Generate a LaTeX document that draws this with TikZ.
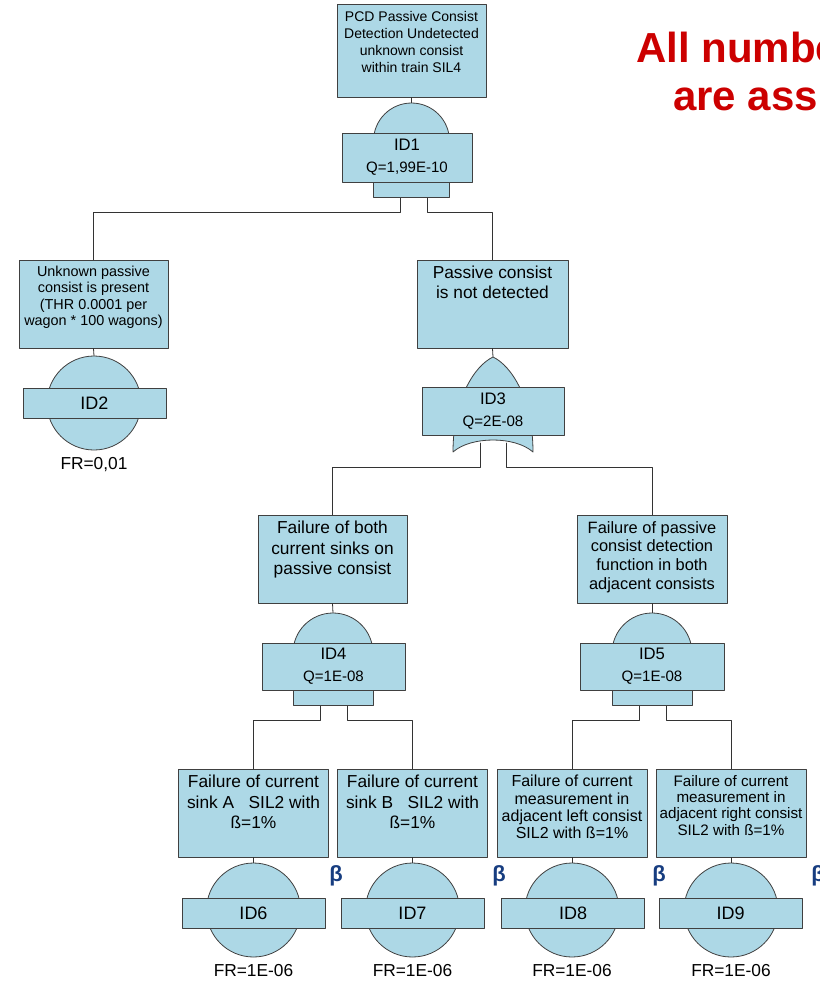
\documentclass[tikz,border=0pt]{standalone}
\usepackage{fontspec}
\setmainfont{Liberation Sans}
\usepackage{tikz}
\usetikzlibrary{calc}

\tikzset{
  evbox/.style={draw=bordgray,fill=boxblue,line width=0.6pt,inner sep=0pt,minimum width=111.75pt,minimum height=66pt},
  evtext/.style={anchor=north,align=center,inner sep=0pt,yshift=-4.8pt},
  gbox/.style={draw=bordgray,fill=boxblue,line width=0.6pt,inner sep=0pt,align=center,font=\fontsize{12.5}{16.5}\selectfont},
  gstub/.style={draw=bordgray,fill=boxblue,line width=0.6pt,inner sep=0pt,minimum height=11.25pt},
  gshape/.style={draw=bordgray,fill=boxblue,line width=0.6pt},
  bbox/.style={draw=bordgray,fill=boxblue,line width=0.6pt,inner sep=0pt,minimum width=107.25pt,minimum height=22.5pt,font=\fontsize{13.5}{16}\selectfont},
  conn/.style={draw=linegray,line width=0.6pt},
  frtext/.style={inner sep=0pt,font=\fontsize{13}{15}\selectfont},
  betatext/.style={inner sep=0pt,text=betablue,font=\fontsize{16.5}{18}\selectfont\bfseries},
  redtext/.style={inner sep=0pt,anchor=base west,text=titlered,font=\fontsize{31.5}{36}\selectfont\bfseries}
}

\begin{document}
\begin{tikzpicture}[line cap=round,line join=round,x=0.75pt,y=0.75pt]
\definecolor{boxblue}{rgb}{0.678,0.847,0.902}
\definecolor{bordgray}{rgb}{0.25,0.25,0.25}
\definecolor{linegray}{rgb}{0.2,0.2,0.2}
\definecolor{titlered}{rgb}{0.8,0.,0.}
\definecolor{betablue}{rgb}{0.09,0.24,0.5}
\useasboundingbox (0,0) rectangle (820,-982);
\clip (0,0) rectangle (820,-982);

% note at top right
\node[redtext] (note1) at (636,-62) {All numbe};
\node[redtext] (note2) at (673,-110) {are ass};

% event boxes
\node[evbox,minimum height=69.75pt] (top) at (411.5,-50.5) {};
\node[evtext,font=\fontsize{10.5}{12.75}\selectfont,yshift=-0.6pt] (toptxt) at (top.north) {PCD Passive Consist\\Detection Undetected\\unknown consist\\within train SIL4};
\node[evbox] (unk) at (93.5,-304) {};
\node[evtext,font=\fontsize{10.8}{12.2}\selectfont] (unktxt) at (unk.north) {Unknown passive\\consist is present\\(THR 0.0001 per\\wagon * 100 wagons)};
\node[evbox,minimum width=113.25pt] (notdet) at (492.5,-304) {};
\node[evtext,font=\fontsize{13}{15}\selectfont] (notdettxt) at (notdet.north) {Passive consist\\is not detected};
\node[evbox] (sinks) at (332.5,-559) {};
\node[evtext,font=\fontsize{13}{15.4}\selectfont] (sinkstxt) at (sinks.north) {Failure of both\\current sinks on\\passive consist};
\node[evbox,minimum width=112.5pt] (adj) at (652,-559) {};
\node[evtext,font=\fontsize{12.3}{14}\selectfont] (adjtxt) at (adj.north) {Failure of passive\\consist detection\\function in both\\adjacent consists};
\node[evbox,minimum width=112.5pt] (sinka) at (253.5,-813) {};
\node[evtext,font=\fontsize{13}{15.4}\selectfont] (sinkatxt) at (sinka.north) {Failure of current\\sink A\ \ \ SIL2 with\\ß=1\%};
\node[evbox,minimum width=112.5pt] (sinkb) at (412.5,-813) {};
\node[evtext,font=\fontsize{13}{15.4}\selectfont] (sinkbtxt) at (sinkb.north) {Failure of current\\sink B\ \ \ SIL2 with\\ß=1\%};
\node[evbox,minimum width=112.5pt] (measl) at (572,-813) {};
\node[evtext,font=\fontsize{12}{13}\selectfont] (measltxt) at (measl.north) {Failure of current\\measurement in\\adjacent left consist\\SIL2 with ß=1\%};
\node[evbox,minimum width=112.5pt] (measr) at (731,-813) {};
\node[evtext,font=\fontsize{11.4}{12.2}\selectfont] (measrtxt) at (measr.north) {Failure of current\\measurement in\\adjacent right consist\\SIL2 with ß=1\%};

% gate tops and branch points
\coordinate (g1top) at (411.5,-103);
\coordinate (g3top) at (493,-357);
\coordinate (g4top) at (333,-613);
\coordinate (g5top) at (652,-613);
\coordinate (b2top) at (94,-356);
\coordinate (b6top) at (253.5,-863);
\coordinate (b7top) at (412.5,-863);
\coordinate (b8top) at (572,-863);
\coordinate (b9top) at (731,-863);
\coordinate (g1l) at (400,-190);
\coordinate (g1r) at (427,-190);
\coordinate (g3l) at (480,-443);
\coordinate (g3r) at (506,-443);
\coordinate (g4l) at (320,-697);
\coordinate (g4r) at (347,-697);
\coordinate (g5l) at (639,-697);
\coordinate (g5r) at (666,-697);

% connectors
\draw[conn] (top.south) -- (g1top);
\draw[conn] (g1l) -- ++(0,-22) -| (unk.north);
\draw[conn] (g1r) -- ++(0,-22) -| (notdet.north);
\draw[conn] (unk.south) -- (b2top);
\draw[conn] (notdet.south) -- (g3top);
\draw[conn] (g3l) -- (480,-467) -| (sinks.north);
\draw[conn] (g3r) -- (506,-467) -| (adj.north);
\draw[conn] (sinks.south) -- (g4top);
\draw[conn] (adj.south) -- (g5top);
\draw[conn] (g4l) -- ++(0,-23) -| (sinka.north);
\draw[conn] (g4r) -- ++(0,-23) -| (sinkb.north);
\draw[conn] (g5l) -- ++(0,-23) -| (measl.north);
\draw[conn] (g5r) -- ++(0,-23) -| (measr.north);
\draw[conn] (sinka.south) -- (b6top);
\draw[conn] (sinkb.south) -- (b7top);
\draw[conn] (measl.south) -- (b8top);
\draw[conn] (measr.south) -- (b9top);

% AND gate ID1
\node[gstub,minimum width=57pt] (s1) at (411,-189.5) {};
\filldraw[gshape] (373.5,-141) arc (180:0:38) -- cycle;
\node[gbox,minimum width=97.5pt,minimum height=36.75pt] (g1) at (407,-157.5) {ID1\\\fontsize{11.3}{16.5}\selectfont Q=1,99E-10};

% OR gate ID3
\filldraw[gshape] (453,-452) .. controls (453,-400) and (474,-366) .. (g3top) .. controls (512,-366) and (533,-400) .. (533,-452) .. controls (515,-436) and (471,-436) .. (453,-452) -- cycle;
\node[gbox,minimum width=106.5pt,minimum height=36pt] (g3) at (493,-411) {ID3\\\fontsize{11.3}{16.5}\selectfont Q=2E-08};

% AND gate ID4
\node[gstub,minimum width=60pt] (s4) at (333,-697.5) {};
\filldraw[gshape] (293,-653) arc (180:0:40) -- cycle;
\node[gbox,minimum width=107.25pt,minimum height=35.25pt] (g4) at (333.5,-666.5) {ID4\\\fontsize{11.3}{16.5}\selectfont Q=1E-08};

% AND gate ID5
\node[gstub,minimum width=60pt] (s5) at (652,-697.5) {};
\filldraw[gshape] (612,-653) arc (180:0:40) -- cycle;
\node[gbox,minimum width=108pt,minimum height=35.25pt] (g5) at (652,-666.5) {ID5\\\fontsize{11.3}{16.5}\selectfont Q=1E-08};

% basic events
\filldraw[gshape] (94,-403) circle (47);
\node[bbox] (b2) at (94.5,-403) {ID2};
\node[frtext] (fr2) at (94,-465) {FR=0,01};
\filldraw[gshape] (253.5,-910) circle (47);
\node[bbox] (b6) at (253.5,-913) {ID6};
\node[frtext] (fr6) at (253.5,-971) {FR=1E-06};
\filldraw[gshape] (412.5,-910) circle (47);
\node[bbox] (b7) at (412.5,-913) {ID7};
\node[frtext] (fr7) at (412.5,-971) {FR=1E-06};
\filldraw[gshape] (572,-910) circle (47);
\node[bbox] (b8) at (573,-913) {ID8};
\node[frtext] (fr8) at (572,-971) {FR=1E-06};
\filldraw[gshape] (731,-910) circle (47);
\node[bbox] (b9) at (730.5,-913) {ID9};
\node[frtext] (fr9) at (731,-971) {FR=1E-06};

% beta marks
\node[betatext] (beta6) at (336,-876) {β};
\node[betatext] (beta7) at (499,-876) {β};
\node[betatext] (beta8) at (659,-876) {β};
\node[betatext] (beta9) at (818,-876) {β};
\end{tikzpicture}
\end{document}
